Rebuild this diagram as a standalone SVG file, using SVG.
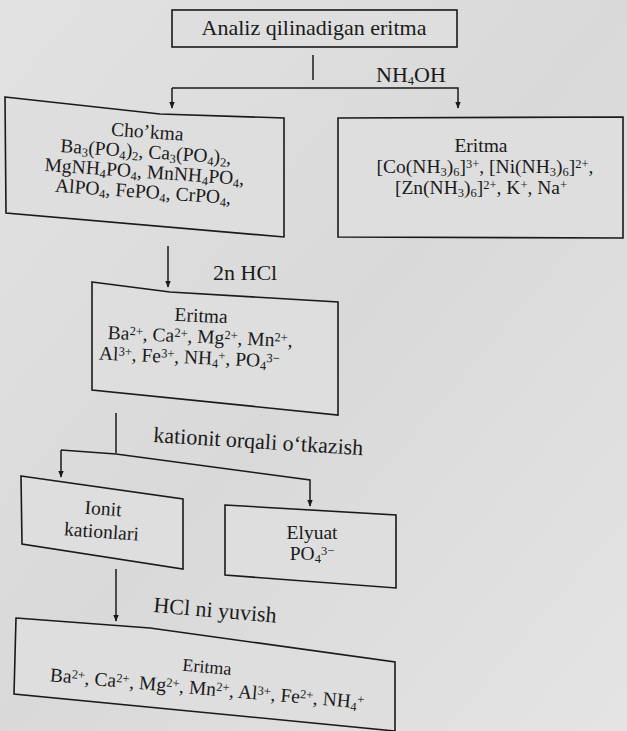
<svg xmlns="http://www.w3.org/2000/svg" width="627" height="731" viewBox="0 0 627 731">
  <defs>
    <linearGradient id="bg" x1="0" y1="0" x2="1" y2="1">
      <stop offset="0" stop-color="#e2e2e2"/>
      <stop offset="0.5" stop-color="#d9d9d9"/>
      <stop offset="1" stop-color="#e4e4e4"/>
    </linearGradient>
    <marker id="arr" viewBox="0 0 10 10" refX="9" refY="5" markerWidth="7" markerHeight="7" orient="auto" markerUnits="userSpaceOnUse">
      <path d="M0,1 L10,5 L0,9 Z" fill="#1a1a1a"/>
    </marker>
  </defs>
  <style>
    .box { fill: #dedede; stroke: #1a1a1a; stroke-width: 1.6; }
    .line { fill: none; stroke: #1a1a1a; stroke-width: 1.5; }
    text { font-family: "Liberation Serif", "Times New Roman", serif; fill: #1a1a1a; }
    .t { font-size: 19.5px; text-anchor: middle; }
    .lbl { font-size: 22px; }
    .sb { font-size: 12.5px; baseline-shift: -2.5px; }
    .sp { font-size: 12.5px; baseline-shift: 5.5px; }
  </style>

  <rect width="627" height="731" fill="url(#bg)"/>

  <!-- Connectors -->
  <g id="connectors">
    <line class="line" x1="313" y1="55" x2="313" y2="80"/>
    <polyline class="line" points="172,88 458,88 458,108" marker-end="url(#arr)"/>
    <line class="line" x1="172" y1="88" x2="172" y2="108" marker-end="url(#arr)"/>
    <line class="line" x1="168" y1="246" x2="168" y2="287" marker-end="url(#arr)"/>
    <line class="line" x1="116" y1="413" x2="116" y2="453"/>
    <polyline class="line" points="61,450 116,454 310,480 310,506" marker-end="url(#arr)"/>
    <line class="line" x1="61" y1="450" x2="61" y2="477" marker-end="url(#arr)"/>
    <line class="line" x1="116" y1="569" x2="116" y2="621" marker-end="url(#arr)"/>
  </g>

  <!-- Edge labels -->
  <text class="lbl" x="376" y="82">NH<tspan class="sb">4</tspan>OH</text>
  <text class="lbl" x="213" y="280">2n HCl</text>
  <text class="lbl" x="153" y="442" transform="rotate(3.6 153 442)">kationit orqali o‘tkazish</text>
  <text class="lbl" x="153" y="612" transform="rotate(5 153 612)">HCl ni yuvish</text>

  <!-- Start -->
  <g id="n-start">
    <rect class="box" x="172" y="10" width="285" height="37" fill="#e6e6e6"/>
    <text class="t" x="314" y="35" style="font-size:22px">Analiz qilinadigan eritma</text>
  </g>

  <!-- Precipitate -->
  <g id="n-chokma">
    <polygon class="box" points="5,97 160,114 284,118 284,237 6,213"/>
    <g transform="rotate(4 145 165)">
      <text class="t" x="145" y="138">Cho’kma</text>
      <text class="t" x="145" y="158">Ba<tspan class="sb">3</tspan>(PO<tspan class="sb">4</tspan>)<tspan class="sb">2</tspan>, Ca<tspan class="sb">3</tspan>(PO<tspan class="sb">4</tspan>)<tspan class="sb">2</tspan>,</text>
      <text class="t" x="145" y="178">MgNH<tspan class="sb">4</tspan>PO<tspan class="sb">4</tspan>, MnNH<tspan class="sb">4</tspan>PO<tspan class="sb">4</tspan>,</text>
      <text class="t" x="145" y="198">AlPO<tspan class="sb">4</tspan>, FePO<tspan class="sb">4</tspan>, CrPO<tspan class="sb">4</tspan>,</text>
    </g>
  </g>

  <!-- Ammine solution -->
  <g id="n-eritma-ammin">
    <polygon class="box" points="338,118 623,117 623,238 338,237"/>
    <text class="t" x="481" y="152">Eritma</text>
    <text class="t" x="485" y="173">[Co(NH<tspan class="sb">3</tspan>)<tspan class="sb">6</tspan>]<tspan class="sp">3+</tspan>, [Ni(NH<tspan class="sb">3</tspan>)<tspan class="sb">6</tspan>]<tspan class="sp">2+</tspan>,</text>
    <text class="t" x="481" y="194">[Zn(NH<tspan class="sb">3</tspan>)<tspan class="sb">6</tspan>]<tspan class="sp">2+</tspan>, K<tspan class="sp">+</tspan>, Na<tspan class="sp">+</tspan></text>
  </g>

  <!-- Dissolved in HCl -->
  <g id="n-eritma-hcl">
    <polygon class="box" points="92,282 170,292 338,302 338,415 92,390"/>
    <g transform="rotate(2.5 200 342)">
      <text class="t" x="200" y="322">Eritma</text>
      <text class="t" x="200" y="343">Ba<tspan class="sp">2+</tspan>, Ca<tspan class="sp">2+</tspan>, Mg<tspan class="sp">2+</tspan>, Mn<tspan class="sp">2+</tspan>,</text>
      <text class="t" x="190" y="364">Al<tspan class="sp">3+</tspan>, Fe<tspan class="sp">3+</tspan>, NH<tspan class="sb">4</tspan><tspan class="sp">+</tspan>, PO<tspan class="sb">4</tspan><tspan class="sp">3−</tspan></text>
    </g>
  </g>

  <!-- Ion exchanger -->
  <g id="n-ionit">
    <polygon class="box" points="21,476 183,499 183,569 22,544"/>
    <g transform="rotate(4 102 525)">
      <text class="t" x="102" y="515">Ionit</text>
      <text class="t" x="102" y="538">kationlari</text>
    </g>
  </g>

  <!-- Eluate -->
  <g id="n-elyuat">
    <polygon class="box" points="225,505 396,515 396,588 225,575"/>
    <text class="t" x="312" y="539">Elyuat</text>
    <text class="t" x="312" y="560">PO<tspan class="sb">4</tspan><tspan class="sp">3−</tspan></text>
  </g>

  <!-- Final solution -->
  <g id="n-eritma-final">
    <polygon class="box" points="16,618 150,628 395,662 395,731 14,694"/>
    <g transform="rotate(5 207 690)">
      <text class="t" x="205" y="673" style="font-size:18px">Eritma</text>
      <text class="t" x="207" y="695">Ba<tspan class="sp">2+</tspan>, Ca<tspan class="sp">2+</tspan>, Mg<tspan class="sp">2+</tspan>, Mn<tspan class="sp">2+</tspan>, Al<tspan class="sp">3+</tspan>, Fe<tspan class="sp">2+</tspan>, NH<tspan class="sb">4</tspan><tspan class="sp">+</tspan></text>
    </g>
  </g>
</svg>
